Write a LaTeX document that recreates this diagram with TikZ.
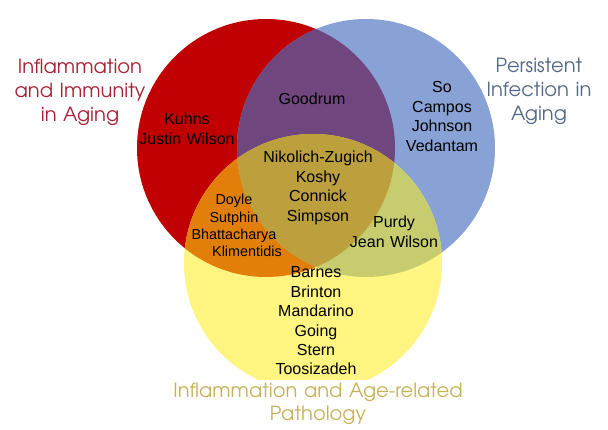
\documentclass[tikz,border=0pt]{standalone}
\usepackage{fontspec}
\setmainfont{Liberation Sans}
\newfontfamily\gothic{texgyreadventor-regular.otf}
\definecolor{vred}{RGB}{192,0,0}
\definecolor{vblue}{RGB}{137,162,213}
\definecolor{vyellow}{RGB}{255,245,128}
\definecolor{vpurple}{RGB}{112,70,126}
\definecolor{vorange}{RGB}{226,127,10}
\definecolor{volive}{RGB}{188,160,62}
\definecolor{vgreen}{RGB}{199,204,110}
\definecolor{tred}{RGB}{168,32,52}
\definecolor{tblue}{RGB}{84,104,135}
\definecolor{tgold}{RGB}{199,178,90}
\tikzset{
  names/.style={anchor=base, inner sep=0pt, align=center, text width=140pt,
    font=\fontsize{16}{19.4}\selectfont, text=black},
  smallnames/.style={names, font=\fontsize{14.4}{17.3}\selectfont},
  vtitle/.style={anchor=base, inner sep=0pt, align=center, text width=170pt,
    font=\gothic\fontsize{19.5}{24}\selectfont},
}
\begin{document}
\begin{tikzpicture}[x=1pt,y=-1pt]
\useasboundingbox (0,0) rectangle (608,430);
\def\R{129}
\coordinate (cr) at (266,148);
\coordinate (cb) at (366,148);
\coordinate (cy) at (313,263);
% base circles
\fill[vred] (cr) circle[radius=\R];
\fill[vblue] (cb) circle[radius=\R];
\fill[vyellow] (cy) circle[radius=\R];
% overlaps
\begin{scope}
  \clip (cr) circle[radius=\R];
  \fill[vpurple] (cb) circle[radius=\R];
  \fill[vorange] (cy) circle[radius=\R];
\end{scope}
\begin{scope}
  \clip (cb) circle[radius=\R];
  \fill[vgreen] (cy) circle[radius=\R];
\end{scope}
\begin{scope}
  \clip (cr) circle[radius=\R];
  \clip (cb) circle[radius=\R];
  \fill[volive] (cy) circle[radius=\R];
\end{scope}
% white title box at bottom
\fill[white] (150,380) rectangle (480,430);
% titles
\node[vtitle, text=tred] (tleft) at (80,74) {Inflammation\\and Immunity\\in Aging};
\node[vtitle, text=tblue] (tright) at (539,73) {Persistent\\Infection in\\Aging};
\node[vtitle, text=tgold, text width=330pt] (tbottom) at (318,397) {Inflammation and Age-related\\Pathology};
% names
\node[names] (goodrum) at (312,105) {Goodrum};
\node[names] (redonly) at (187,125) {Kuhns\\Justin Wilson};
\node[names] (blueonly) at (442,93) {So\\Campos\\Johnson\\Vedantam};
\node[names] (center) at (318,163) {Nikolich-Zugich\\Koshy\\Connick\\Simpson};
\node[smallnames] (redyellow) at (234,205) {Doyle\\Sutphin\\Bhattacharya\\\hspace*{26pt}Klimentidis};
\node[names] (blueyellow) at (394,228) {Purdy\\Jean Wilson};
\node[names] (yellowonly) at (316,278) {Barnes\\Brinton\\Mandarino\\Going\\Stern\\Toosizadeh};
\end{tikzpicture}
\end{document}
